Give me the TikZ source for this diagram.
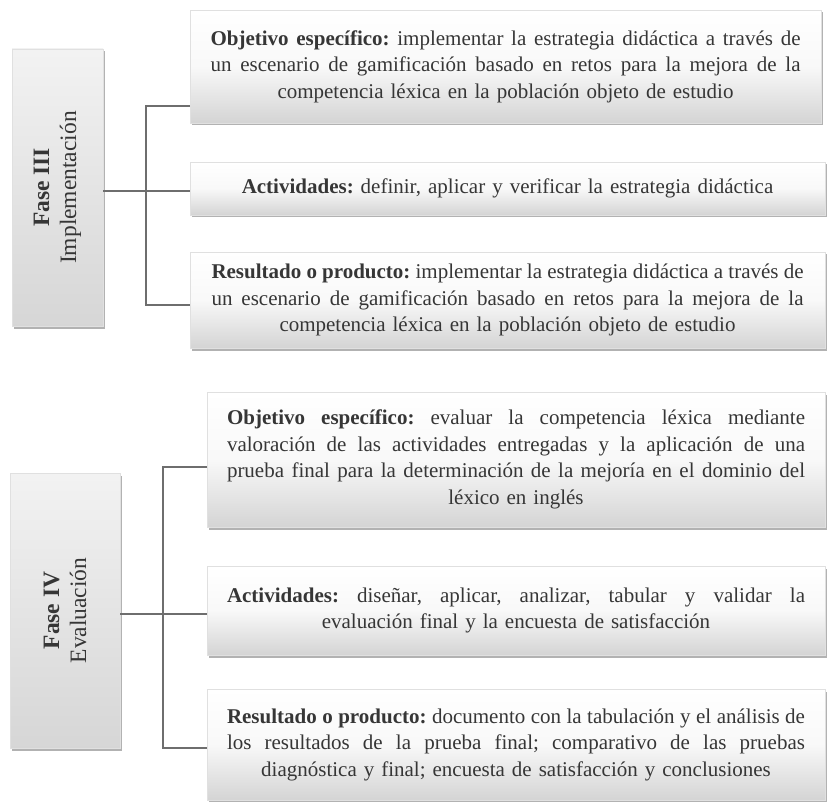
\documentclass[tikz,border=0pt]{standalone}
\usepackage{fontspec}
\setmainfont{Liberation Serif}
\usetikzlibrary{shadows}
\definecolor{txt}{HTML}{363636}
\definecolor{conn}{HTML}{6E6E6E}
\definecolor{boxbot}{HTML}{D4D4D4}
\definecolor{boxedge}{HTML}{E0E0E0}
\newcommand\jl[2]{\leavevmode\hbox to #1{\spaceskip=0.25em plus 0.6em minus 0.09em\relax #2}}
\begin{document}
\begin{tikzpicture}[x=1pt,y=-1pt,
  card/.style={draw=boxedge, line width=0.6pt, outer sep=0pt,
    top color=white, bottom color=boxbot, middle color=white!85!boxbot,
    drop shadow={shadow xshift=1.5pt, shadow yshift=-2.5pt, opacity=0.55, fill=black!55},
    text=txt, font=\fontsize{21}{26.5}\selectfont\frenchspacing, align=center, anchor=center},
  phase/.style={draw=boxedge, line width=0.6pt, outer sep=0pt,
    top color=black!5, bottom color=black!16,
    drop shadow={shadow xshift=1.5pt, shadow yshift=-2.5pt, opacity=0.55, fill=black!55},
    anchor=center},
  phaselabel/.style={rotate=90, align=center, text=txt,
    font=\fontsize{23.5}{27}\selectfont},
  conn/.style={draw=conn, line width=1.6pt, line join=miter}
]
\path[fill=white, use as bounding box] (0,0) rectangle (827,802);

% ---------- Fase III ----------
\node[phase, minimum width=91pt, minimum height=277pt] (F3) at (57.5,187.5) {};
\node[phaselabel] (F3t) at (F3.center) {\textbf{Fase III}\\Implementación};

\node[card, text width=590pt, inner xsep=20.5pt, minimum height=113pt] (O3) at (505.5,66.5)
  {\jl{590pt}{\textbf{Objetivo específico:} implementar la estrategia didáctica a través de}\\
   \jl{590pt}{un escenario de gamificación basado en retos para la mejora de la}\\
   competencia léxica en la población objeto de estudio};
\node[card, text width=592pt, inner xsep=21.5pt, minimum height=53pt] (A3) at (507.5,188.5)
  {\textbf{Actividades:} definir, aplicar y verificar la estrategia didáctica};
\node[card, text width=592pt, inner xsep=21.5pt, minimum height=96pt] (R3) at (507.5,300)
  {\jl{592pt}{\textbf{Resultado o producto:} implementar la estrategia didáctica a través de}\\
   \jl{592pt}{un escenario de gamificación basado en retos para la mejora de la}\\
   competencia léxica en la población objeto de estudio};

\coordinate (t3a) at (146,106);
\coordinate (t3m) at (146,191);
\coordinate (t3b) at (146,305);
\draw[conn] (F3.east |- t3m) -- (t3m) -- (A3.west |- t3m);
\draw[conn] (O3.west |- t3a) -- (t3a) -- (t3b) -- (R3.west |- t3b);

% ---------- Fase IV ----------
\node[phase, minimum width=110pt, minimum height=275pt] (F4) at (65,610.5) {};
\node[phaselabel] (F4t) at (F4.center) {\textbf{Fase IV}\\Evaluación};

\node[card, text width=578pt, inner xsep=20pt, minimum height=135pt] (O4) at (516,459.5)
  {\jl{578pt}{\textbf{Objetivo específico:} evaluar la competencia léxica mediante}\\
   \jl{578pt}{valoración de las actividades entregadas y la aplicación de una}\\
   \jl{578pt}{prueba final para la determinación de la mejoría en el dominio del}\\
   léxico en inglés};
\node[card, text width=578pt, inner xsep=20pt, minimum height=89pt] (A4) at (516,610.5)
  {\jl{578pt}{\textbf{Actividades:} diseñar, aplicar, analizar, tabular y validar la}\\
   evaluación final y la encuesta de satisfacción};
\node[card, text width=578pt, inner xsep=20pt, minimum height=111pt] (R4) at (516,744.5)
  {\jl{578pt}{\textbf{Resultado o producto:} documento con la tabulación y el análisis de}\\
   \jl{578pt}{los resultados de la prueba final; comparativo de las pruebas}\\
   diagnóstica y final; encuesta de satisfacción y conclusiones};

\coordinate (t4a) at (163,467);
\coordinate (t4m) at (163,614);
\coordinate (t4b) at (163,748);
\draw[conn] (F4.east |- t4m) -- (t4m) -- (A4.west |- t4m);
\draw[conn] (O4.west |- t4a) -- (t4a) -- (t4b) -- (R4.west |- t4b);
\end{tikzpicture}
\end{document}
